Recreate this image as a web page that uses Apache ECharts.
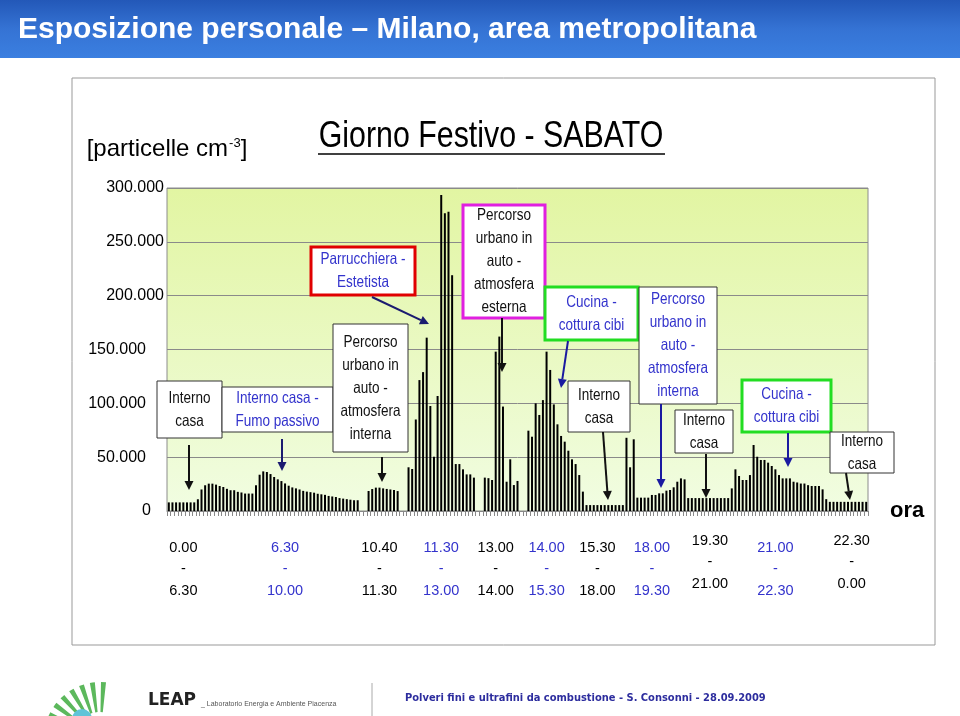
<!DOCTYPE html>
<html>
<head>
<meta charset="utf-8">
<script src="https://cdn.jsdelivr.net/npm/echarts@6/dist/echarts.min.js"></script>
<style>
html,body{margin:0;padding:0;background:#ffffff;}
#chart{width:960px;height:716px;}
</style>
</head>
<body>
<div id="chart"></div>
<script>
// ---------- DATA ----------
// Particle concentration per time slot (particelle / cm3)
const concentration = [
  8000,8000,8000,8000,8000,8000,8000,8000,
  10900,20000,23900,25400,25400,24500,23200,22300,20600,19300,19300,17800,17200,16200,16200,16200,
  23900,33700,36800,36200,34300,31600,29400,27800,25600,23500,21900,21000,20000,18700,
  18000,17500,17000,16000,15500,15000,14000,13500,13000,12000,11500,11000,10500,10000,10000,
  0,0,
  18600,20400,21700,21700,21000,20500,20000,19500,18500,
  0,0,
  40600,39000,85000,121600,129000,161000,97500,50400,106800,293500,276500,278000,219000,43600,43600,38700,34000,34000,31000,
  0,0,
  31000,30500,28800,148000,162000,97000,27200,48000,24100,27900,
  0,0,
  74600,69000,100000,89200,103000,148000,131000,99000,80500,69700,64400,56000,48000,43600,33400,18000,
  5500,5500,5500,5500,5500,5500,5500,5500,5500,5500,5500,
  68000,40600,66600,
  12400,12400,12400,12400,14900,14900,16400,16400,18900,19500,22000,27200,30300,29400,
  12000,12000,12000,12000,12000,12000,12000,12000,12000,12000,12000,12000,
  21000,38700,32500,28800,28800,33400,61300,50400,47400,47400,44900,41800,38700,33400,30300,30300,30300,27200,26500,25500,25500,24000,23200,23200,23200,20100,
  11000,
  8500,8500,8500,8500,8500,8500,8500,8500,8500,8500,8500
];
// one category per time slot
const slots = concentration.map((v, i) => 'slot ' + (i + 1));

// x tick labels (time ranges) and the slot they sit under
const labelSlot = [4, 32, 58, 75, 90, 104, 118, 133, 149, 167, 188];
const labelFrom = ['0.00','6.30','10.40','11.30','13.00','14.00','15.30','18.00','19.30','21.00','22.30'];
const labelTo   = ['6.30','10.00','11.30','13.00','14.00','15.30','18.00','19.30','21.00','22.30','0.00'];
const labelBlue = [false,true,false,true,false,true,false,true,false,true,false];
const labelRaised = [false,false,false,false,false,false,false,false,true,false,true];

// y axis
const yMin = 0, yMax = 300000, yStep = 50000;

// annotation texts
const noteTexts = [
  ['Interno','casa'],
  ['Interno casa -','Fumo passivo'],
  ['Parrucchiera -','Estetista'],
  ['Percorso','urbano in','auto -','atmosfera','interna'],
  ['Percorso','urbano in','auto -','atmosfera','esterna'],
  ['Cucina -','cottura cibi'],
  ['Interno','casa'],
  ['Percorso','urbano in','auto -','atmosfera','interna'],
  ['Interno','casa'],
  ['Cucina -','cottura cibi'],
  ['Interno','casa']
];

// ---------- LAYOUT / STYLE ----------
const SANS = '"Liberation Sans",Arial,sans-serif';
const NARROW_SCALE = 0.82;
const BLUE = '#3333cc';
const NAVY = '#1b1b70';
const noteLayout = [
  {box:[157,381,65,57],  color:'#111', border:'#333', bw:1, arrow:[189,445,189,490], ac:'#111'},
  {box:[222,387,111,45], color:BLUE,   border:'#333', bw:1, arrow:[282,439,282,471], ac:NAVY},
  {box:[311,247,104,48], color:BLUE,   border:'#e00000', bw:3, arrow:[372,297,429,324], ac:NAVY},
  {box:[333,324,75,128], color:'#111', border:'#333', bw:1, arrow:[382,457,382,482], ac:'#111'},
  {box:[463,205,82,113], color:'#111', border:'#e020e0', bw:3, arrow:[502,318,502,372], ac:'#111'},
  {box:[545,287,93,53],  color:BLUE,   border:'#22dd22', bw:3, arrow:[568,341,561,388], ac:'#1a1aa0'},
  {box:[568,381,62,51],  color:'#111', border:'#333', bw:1, arrow:[603,432,608,500], ac:'#111'},
  {box:[639,287,78,117], color:BLUE,   border:'#333', bw:1, arrow:[661,404,661,488], ac:'#1a1aa0'},
  {box:[675,410,58,43],  color:'#111', border:'#333', bw:1, arrow:[706,454,706,498], ac:'#111'},
  {box:[742,380,89,52],  color:BLUE,   border:'#22dd22', bw:3, arrow:[788,433,788,467], ac:'#1a1aa0'},
  {box:[830,432,64,41],  color:'#111', border:'#333', bw:1, arrow:[846,473,850,500], ac:'#111'}
];

function arrowEls(a, color) {
  const [x1,y1,x2,y2] = a;
  const ang = Math.atan2(y2-y1, x2-x1);
  const L = 9, W = 4.5;
  const bx = x2 - L*Math.cos(ang), by = y2 - L*Math.sin(ang);
  const px = -Math.sin(ang), py = Math.cos(ang);
  return [
    {type:'line', z:100, shape:{x1:x1,y1:y1,x2:bx,y2:by}, style:{stroke:color, lineWidth:2}},
    {type:'polygon', z:100, shape:{points:[[x2,y2],[bx+W*px,by+W*py],[bx-W*px,by-W*py]]}, style:{fill:color}}
  ];
}

const graphics = [];
// slide title band
graphics.push({type:'rect', z:0, shape:{x:0,y:0,width:960,height:58},
  style:{fill:new echarts.graphic.LinearGradient(0,0,0,1,[{offset:0,color:'#2358b8'},{offset:0.5,color:'#3573d4'},{offset:1,color:'#3b7fe0'}])}});
graphics.push({type:'text', z:10, x:18, y:30, style:{text:'Esposizione personale \u2013 Milano, area metropolitana',
  fill:'#ffffff', fontSize:30, fontWeight:'bold', fontFamily:SANS, align:'left', verticalAlign:'middle'}});
// chart frame
graphics.push({type:'rect', z:0, shape:{x:72,y:78,width:863,height:567}, style:{fill:'none', stroke:'#999', lineWidth:1}});
// chart title (narrow look)
graphics.push({type:'text', z:10, x:491, y:137, scaleX:NARROW_SCALE, style:{text:'Giorno Festivo - SABATO', fill:'#000',
  fontSize:37, fontFamily:SANS, align:'center', verticalAlign:'middle'}});
graphics.push({type:'line', z:10, shape:{x1:318,y1:154,x2:665,y2:154}, style:{stroke:'#000', lineWidth:1.5}});
// annotations
noteTexts.forEach((lines, i) => {
  const n = noteLayout[i];
  const [x,y,w,h] = n.box;
  graphics.push({type:'rect', z:100, shape:{x:x,y:y,width:w,height:h}, style:{fill:'#ffffff', stroke:n.border, lineWidth:n.bw}});
  graphics.push({type:'text', z:101, x:x+w/2, y:y+h/2, scaleX:NARROW_SCALE, style:{text:lines.join('\n'), fill:n.color,
    fontSize:16.5, fontFamily:SANS, align:'center', verticalAlign:'middle', lineHeight:23}});
  arrowEls(n.arrow, n.ac).forEach(e => graphics.push(e));
});
// footer logo
for (let k = 0; k < 8; k++) {
  const a0 = Math.PI*1.06 + k*0.2;
  graphics.push({type:'sector', z:5, shape:{cx:100, cy:738, r0:26, r:56, startAngle:a0, endAngle:a0+0.09},
    style:{fill:'#5cb85c'}});
}
graphics.push({type:'sector', z:6, shape:{cx:82, cy:719, r0:0, r:10, startAngle:Math.PI, endAngle:Math.PI*2},
  style:{fill:'#60c4d8'}});
graphics.push({type:'text', z:10, x:148, y:701, style:{text:'LEAP', fill:'#222', fontSize:17, fontWeight:'bold',
  fontFamily:'"DejaVu Sans",sans-serif', align:'left', verticalAlign:'middle'}});
graphics.push({type:'text', z:10, x:201, y:704, style:{text:'_ Laboratorio Energia e Ambiente Piacenza', fill:'#555', fontSize:7,
  fontFamily:SANS, align:'left', verticalAlign:'middle'}});
graphics.push({type:'line', z:10, shape:{x1:372,y1:683,x2:372,y2:716}, style:{stroke:'#aaa', lineWidth:1}});
graphics.push({type:'text', z:10, x:405, y:698, style:{text:'Polveri fini e ultrafini da combustione - S. Consonni - 28.09.2009',
  fill:'#2d2d9e', fontSize:11, fontWeight:'bold', fontFamily:'"DejaVu Sans Condensed","DejaVu Sans",sans-serif', align:'left', verticalAlign:'middle'}});

const chart = echarts.init(document.getElementById('chart'), null, {renderer:'canvas'});
chart.setOption({
  animation: false,
  backgroundColor: '#ffffff',
  grid: {
    left: 167, right: 92, top: 188, bottom: 205, show: true,
    borderColor: '#8c8c8c', borderWidth: 1,
    backgroundColor: new echarts.graphic.LinearGradient(0,0,0,1,[{offset:0,color:'#e2f5a2'},{offset:1,color:'#f1fde2'}])
  },
  xAxis: {
    type: 'category',
    data: slots,
    boundaryGap: true,
    name: 'ora',
    nameLocation: 'end',
    nameGap: 22,
    nameTextStyle: {fontSize:22, fontWeight:'bold', fontFamily:SANS, color:'#000', padding:[36,0,0,0]},
    axisLine: {show:true, lineStyle:{color:'#888', width:1}},
    axisTick: {show:true, interval:0, length:5, lineStyle:{color:'#888'}},
    splitLine: {show:false},
    axisLabel: {
      interval: (idx) => labelSlot.indexOf(idx) >= 0,
      margin: 19,
      formatter: (value, idx) => {
        const k = labelSlot.indexOf(idx);
        if (k < 0) return '';
        const s = labelBlue[k] ? 'b' : 'k';
        const pre = labelRaised[k] ? '' : '{sp| }\n';
        return pre + '{' + s + '|' + labelFrom[k] + '}\n{' + s + '|-}\n{' + s + '|' + labelTo[k] + '}';
      },
      rich: {
        sp: {fontSize:2, lineHeight:7},
        k: {fontSize:14.5, fontFamily:SANS, color:'#000', lineHeight:21.5, align:'center'},
        b: {fontSize:14.5, fontFamily:SANS, color:BLUE, lineHeight:21.5, align:'center'}
      }
    }
  },
  yAxis: {
    type: 'value',
    min: yMin, max: yMax, interval: yStep,
    name: '{a|[particelle cm}{s|-3}{a|]}',
    nameLocation: 'end',
    nameGap: 26,
    nameTextStyle: {
      color:'#000', fontFamily:SANS, fontSize:24,
      rich: {
        a: {fontSize:24, fontFamily:SANS, color:'#000'},
        s: {fontSize:13, fontFamily:SANS, color:'#000', verticalAlign:'top', padding:[0,0,12,1]}
      }
    },
    axisLine: {show:false},
    axisTick: {show:false},
    splitLine: {show:true, lineStyle:{color:'#8a8a8a', width:1}},
    axisLabel: {
      margin: 3,
      formatter: (v) => v === 0 ? '{z|0}' : (v >= 200000 ? '{h|' + (v/1000) + '.000}' : '{l|' + (v/1000) + '.000}'),
      color: '#000', fontSize: 16, fontFamily: SANS,
      rich: {
        h: {fontSize:16, fontFamily:SANS, color:'#000'},
        l: {fontSize:16, fontFamily:SANS, color:'#000', padding:[0,18,0,0]},
        z: {fontSize:16, fontFamily:SANS, color:'#000', padding:[0,13,0,0]}
      }
    }
  },
  series: [{
    type: 'bar',
    data: concentration,
    barWidth: 2,
    itemStyle: {color:'#000'},
    silent: true
  }],
  graphic: {elements: graphics}
});
</script>
</body>
</html>
